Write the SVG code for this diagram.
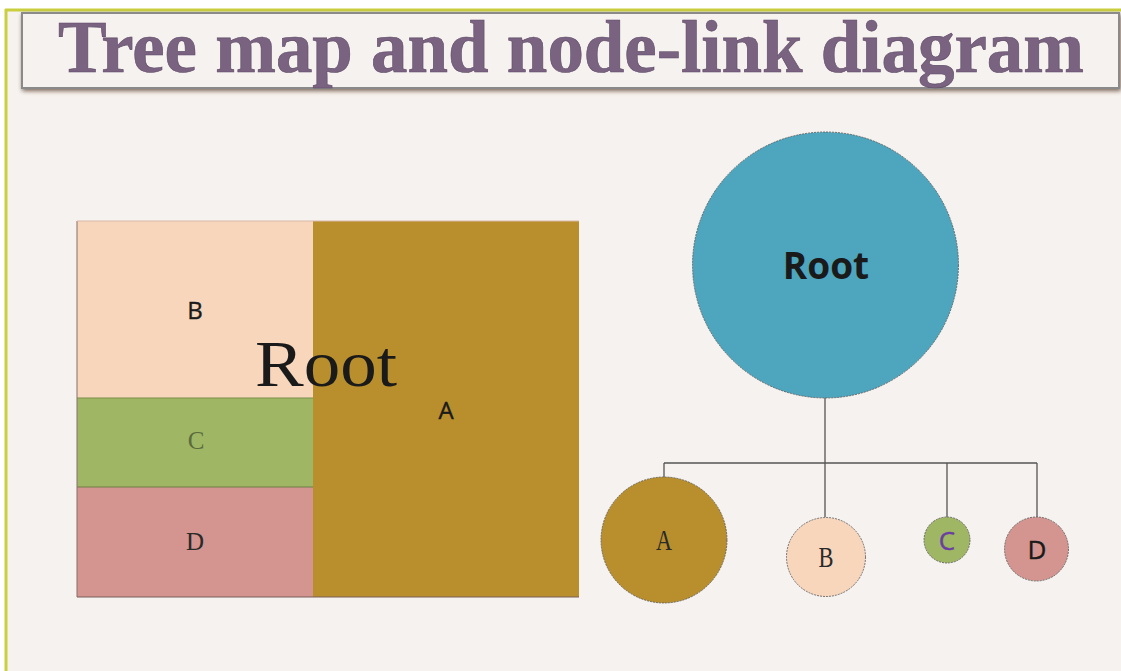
<svg xmlns="http://www.w3.org/2000/svg" width="1121" height="671" viewBox="0 0 1121 671">
<defs>
<style>
.serif{font-family:"Liberation Serif","DejaVu Serif",serif}
.sans{font-family:"Open Sans","Liberation Sans",sans-serif}
.lbl{text-anchor:middle}
.conn{stroke:#555;stroke-width:1.3;fill:none}
.node{stroke:#555;stroke-width:0.8;stroke-dasharray:2 1}
</style>
<filter id="sh" x="-5%" y="-30%" width="110%" height="160%">
<feGaussianBlur in="SourceAlpha" stdDeviation="2"/>
<feOffset dx="1" dy="2"/>
<feComponentTransfer><feFuncA type="linear" slope="0.5"/></feComponentTransfer>
<feMerge><feMergeNode/><feMergeNode in="SourceGraphic"/></feMerge>
</filter>
<filter id="glow" x="-5%" y="-30%" width="110%" height="160%">
<feGaussianBlur stdDeviation="3"/>
</filter>
</defs>
<rect x="0" y="0" width="1121" height="671" fill="#ffffff"/>
<rect x="6" y="10" width="1115" height="661" fill="#F6F2EF"/>
<line x1="5" y1="10" x2="1121" y2="10" stroke="#C9CF3E" stroke-width="3"/>
<line x1="6" y1="9" x2="6" y2="671" stroke="#C9CF3E" stroke-width="3"/>
<g id="title">
<rect x="24" y="16" width="1097" height="74" fill="#F6CDB0" filter="url(#glow)"/>
<rect x="22" y="13" width="1097" height="75" fill="#F6F2EF" stroke="#8A8A8A" stroke-width="2" filter="url(#sh)"/>
<text x="571" y="72" class="serif lbl" font-size="74" font-weight="bold" fill="#7A6381" stroke="#5E4A66" stroke-width="0.6" textLength="1026" lengthAdjust="spacingAndGlyphs">Tree map and node-link diagram</text>
</g>
<g id="treemap">
<g id="tm-B"><rect x="77" y="221" width="236" height="177" fill="#F7D6BC"/><text x="195" y="319" class="sans lbl" font-size="24" fill="#1a1a1a" stroke="#1a1a1a" stroke-width="0.4">B</text></g>
<g id="tm-C"><rect x="77" y="398" width="236" height="89" fill="#9FB665"/><text x="196" y="449" class="serif lbl" font-size="25" fill="#5B6B3C">C</text></g>
<g id="tm-D"><rect x="77" y="487" width="236" height="110" fill="#D49590"/><text x="195" y="550" class="serif lbl" font-size="25" fill="#2a2a2a">D</text></g>
<g id="tm-A"><rect x="313" y="221" width="266" height="376" fill="#B98F2E"/><text x="446" y="419" class="sans lbl" font-size="24" fill="#1a1a1a" stroke="#1a1a1a" stroke-width="0.4">A</text></g>
<line x1="77" y1="398" x2="313" y2="398" stroke="#7A8F4A" stroke-width="1"/>
<line x1="77" y1="487" x2="313" y2="487" stroke="#6F7F47" stroke-width="1.2"/>
<line x1="77" y1="221" x2="77" y2="597" stroke="#8A6E6A" stroke-width="1"/>
<line x1="77" y1="597" x2="579" y2="597" stroke="#7A5E5A" stroke-width="1.2"/>
<line x1="77" y1="221" x2="579" y2="221" stroke="#D8B8A8" stroke-width="1"/>
<text x="326" y="386" class="serif lbl" font-size="66" fill="#1a1a1a" textLength="142" lengthAdjust="spacingAndGlyphs">Root</text>
</g>
<g id="connectors">
<path class="conn" d="M825 398 V463 M664 463 H1037 M664 463 V477 M825 463 V517 M947 463 V517 M1037 463 V517"/>
</g>
<g id="n-root"><circle cx="825.5" cy="265" r="133" fill="#4DA5BE" class="node"/><text x="826" y="279" class="sans lbl" font-size="37" font-weight="bold" fill="#1a1a1a">Root</text></g>
<g id="n-A"><circle cx="664" cy="540" r="63" fill="#B98F2E" class="node"/><text x="664" y="550" class="serif lbl" font-size="29" fill="#2a2a2a" textLength="16" lengthAdjust="spacingAndGlyphs">A</text></g>
<g id="n-B"><circle cx="826" cy="557" r="39.5" fill="#F7D6BC" class="node"/><text x="826" y="567" class="serif lbl" font-size="29" fill="#2a2a2a" textLength="15" lengthAdjust="spacingAndGlyphs">B</text></g>
<g id="n-C"><circle cx="947" cy="540" r="23" fill="#9FB665" class="node"/><text x="947" y="550" class="sans lbl" font-size="26" fill="#6A3FA0" stroke="#6A3FA0" stroke-width="0.4">C</text></g>
<g id="n-D"><circle cx="1036.5" cy="549" r="32" fill="#D49590" class="node"/><text x="1037" y="559" class="sans lbl" font-size="26" fill="#1a1a1a" stroke="#1a1a1a" stroke-width="0.4">D</text></g>
</svg>
